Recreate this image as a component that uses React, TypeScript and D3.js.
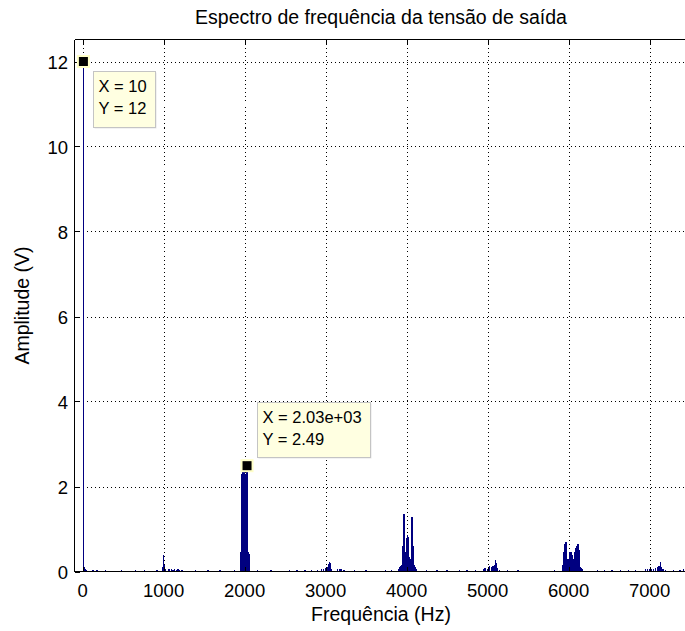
import React from "react";
import * as d3 from "d3";

// ---- data (frequency Hz, amplitude V) ----
const xTicks = [0, 1000, 2000, 3000, 4000, 5000, 6000, 7000];
const yTicks = [0, 2, 4, 6, 8, 10, 12];

const bandDC: [number, number][] = [
  [10, 12], [20, 0.1], [30, 0.08], [40, 0.05], [50, 0.03],
];
const band1k: [number, number][] = [
  [990, 0.1], [1000, 0.38], [1010, 0.15], [1020, 0.05], [1060, 0.05], [1080, 0.05],
  [1100, 0.06], [1120, 0.04], [1140, 0.05], [1160, 0.04], [1180, 0.05], [1200, 0.04], [1230, 0.03],
];
const band2k: [number, number][] = [
  [1950, 0.42], [1960, 0.45], [1970, 2.3], [1980, 2.38], [1990, 2.42], [2000, 2.4],
  [2010, 2.3], [2020, 2.2], [2030, 2.49], [2040, 2.4], [2050, 0.45], [2060, 0.42],
];
const band3k: [number, number][] = [
  [2900, 0.04], [2950, 0.05], [2980, 0.05], [3000, 0.08], [3020, 0.1], [3040, 0.18],
  [3050, 0.22], [3060, 0.2], [3070, 0.05], [3150, 0.05], [3180, 0.06], [3200, 0.05], [3230, 0.03],
];
const band4k: [number, number][] = [
  [3900, 0.05], [3920, 0.1], [3930, 0.12], [3940, 0.15], [3950, 0.57], [3960, 0.6],
  [3970, 1.36], [3980, 1.3], [3990, 0.45], [4000, 0.8], [4010, 0.85], [4020, 0.82],
  [4030, 0.8], [4040, 0.35], [4050, 0.3], [4060, 0.4], [4070, 1.28], [4080, 1.25],
  [4090, 0.6], [4100, 0.15], [4110, 0.1], [4120, 0.05],
];
const band5k: [number, number][] = [
  [4950, 0.05], [4970, 0.08], [5000, 0.07], [5010, 0.1], [5030, 0.12], [5050, 0.1],
  [5070, 0.12], [5090, 0.15], [5100, 0.26], [5110, 0.2], [5120, 0.08], [5150, 0.04],
];
const band6k: [number, number][] = [
  [5930, 0.15], [5940, 0.45], [5950, 0.6], [5960, 0.65], [5970, 0.69], [5980, 0.5],
  [5990, 0.3], [6000, 0.3], [6010, 0.4], [6020, 0.45], [6030, 0.47], [6040, 0.45],
  [6050, 0.38], [6060, 0.25], [6070, 0.3], [6080, 0.45], [6090, 0.55], [6100, 0.6],
  [6110, 0.62], [6120, 0.64], [6130, 0.5], [6140, 0.15], [6150, 0.1], [6160, 0.08], [6170, 0.05],
];
const band7k: [number, number][] = [
  [6950, 0.05], [6980, 0.06], [7000, 0.07], [7020, 0.06], [7050, 0.07], [7080, 0.08],
  [7100, 0.1], [7120, 0.12], [7140, 0.23], [7150, 0.1], [7170, 0.05], [7200, 0.04],
];
const noise: [number, number][] = [
  [130, 0.03], [180, 0.04], [290, 0.03], [480, 0.03], [660, 0.04], [770, 0.03], [920, 0.03],
  [1400, 0.03], [1550, 0.03], [1700, 0.02], [1880, 0.03],
  [2160, 0.03], [2330, 0.03], [2560, 0.03], [2650, 0.03], [2750, 0.03], [2830, 0.03],
  [3360, 0.03], [3500, 0.02], [3740, 0.03], [3820, 0.03],
  [4250, 0.03], [4380, 0.03], [4500, 0.03], [4660, 0.03], [4750, 0.03], [4850, 0.04],
  [5250, 0.03], [5380, 0.03], [5830, 0.03],
  [6360, 0.03], [6450, 0.03], [6540, 0.03], [6640, 0.03], [6740, 0.03], [6830, 0.03],
  [7300, 0.03], [7380, 0.04], [7420, 0.05],
];

const tips = [
  { x: 10, y: 12, lines: ["X = 10", "Y = 12"], dx: 9.5, dy: 9.5, w: 62, h: 56 },
  { x: 2030, y: 2.49, lines: ["X = 2.03e+03", "Y = 2.49"], dx: 9.5, dy: -64, w: 113, h: 55 },
];

const FONT = "'Liberation Sans', Arial, sans-serif";

export default function App() {
  const W = 685, H = 631;
  const x = d3.scaleLinear().domain([-100, 7500]).range([74.5, 690.1]);
  const y = d3.scaleLinear().domain([0, 12.5]).range([571.5, 40.25]);
  const left = 74.5, top = 39.5, bottom = 571.5, right = 690;
  const bars = [...bandDC, ...band1k, ...band2k, ...band3k, ...band4k, ...band5k, ...band6k, ...band7k, ...noise];
  const color = "#000080";

  return (
    <svg width={W} height={H} style={{ position: "absolute", left: 0, top: 0, background: "#fff" }}>
      <rect x={0} y={0} width={W} height={H} fill="#fff" />
      {/* grid */}
      <g shapeRendering="crispEdges">
        {yTicks.filter(t => t > 0).map(t => (
          <line key={"gy" + t} x1={left} x2={right} y1={Math.round(y(t)) + 0.5} y2={Math.round(y(t)) + 0.5}
            stroke="#000" strokeDasharray="1,3" strokeWidth={1} />
        ))}
        {xTicks.map(t => (
          <line key={"gx" + t} y1={top} y2={bottom} x1={Math.round(x(t)) + 0.5} x2={Math.round(x(t)) + 0.5}
            stroke="#000" strokeDasharray="1,3" strokeWidth={1} />
        ))}
      </g>
      {/* bars */}
      <g shapeRendering="crispEdges">
        {bars.map(([f, a], i) => {
          const x0 = Math.floor(x(f - 5));
          const x1 = Math.max(x0 + 1, Math.round(x(f + 5)));
          const yt = Math.round(y(a));
          return (
            <rect key={"b" + i} x={x0} width={x1 - x0} y={Math.min(yt, 570)} height={571 - Math.min(yt, 570)} fill={color} />
          );
        })}
      </g>
      {/* axes */}
      <g shapeRendering="crispEdges">
        <line x1={left} x2={right} y1={top} y2={top} stroke="#000" />
        <line x1={left} x2={right} y1={bottom} y2={bottom} stroke="#000" />
        <line x1={left} x2={left} y1={top} y2={bottom} stroke="#000" />
        {xTicks.map(t => (
          <g key={"tx" + t}>
            <line x1={Math.round(x(t)) + 0.5} x2={Math.round(x(t)) + 0.5} y1={bottom} y2={bottom - 5} stroke="#000" />
            <line x1={Math.round(x(t)) + 0.5} x2={Math.round(x(t)) + 0.5} y1={top} y2={top + 5} stroke="#000" />
          </g>
        ))}
        {yTicks.map(t => (
          <line key={"ty" + t} x1={left} x2={left + 5} y1={Math.round(y(t)) + 0.5} y2={Math.round(y(t)) + 0.5} stroke="#000" />
        ))}
      </g>
      {xTicks.map(t => (
        <text key={"lx" + t} x={x(t)} y={597} textAnchor="middle" fontFamily={FONT} fontSize={18.5} fill="#000">{t}</text>
      ))}
      {yTicks.map(t => (
        <text key={"ly" + t} x={68} y={y(t) + 7} textAnchor="end" fontFamily={FONT} fontSize={18.5} fill="#000">{t}</text>
      ))}
      {/* labels */}
      <text x={381} y={24} textAnchor="middle" fontFamily={FONT} fontSize={19.5} fill="#000">Espectro de frequência da tensão de saída</text>
      <text x={381} y={621} textAnchor="middle" fontFamily={FONT} fontSize={19.5} fill="#000">Frequência (Hz)</text>
      <text transform={`translate(29,${(top + bottom) / 2}) rotate(-90)`} textAnchor="middle" fontFamily={FONT} fontSize={19.5} fill="#000">Amplitude (V)</text>
      {/* data tips */}
      {tips.map((t, i) => {
        const cx = x(t.x), cy = y(t.y);
        const bx = Math.round(cx + t.dx) + 0.5, by = Math.round(cy + t.dy) + 0.5;
        return (
          <g key={"tip" + i}>
            <rect x={bx + 1} y={by + 1} width={t.w} height={t.h} fill="#e6e6e6" />
            <rect x={bx} y={by} width={t.w} height={t.h} fill="#FFFFE1" stroke="#c4c4c4" />
            {t.lines.map((s, j) => (
              <text key={j} x={bx + 5} y={by + 20 + j * 22} fontFamily={FONT} fontSize={16.5} fill="#000">{s}</text>
            ))}
            <rect x={cx - 6.5} y={cy - 6.5} width={13} height={13} fill="#FFFFC8" />
            <rect x={cx - 4.5} y={cy - 4.5} width={9} height={9} fill="#000" />
          </g>
        );
      })}
    </svg>
  );
}
